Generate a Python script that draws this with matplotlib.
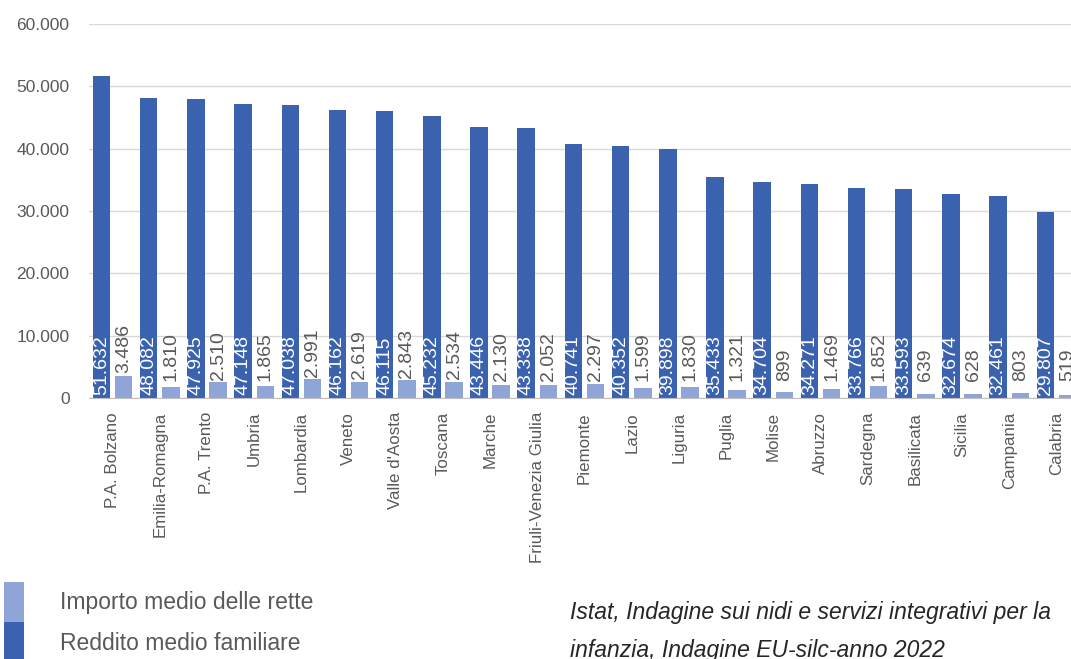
import matplotlib
matplotlib.use("Agg")
import matplotlib.pyplot as plt
from matplotlib.patches import Rectangle
import numpy as np

plt.rcParams['font.family'] = ['Liberation Sans', 'DejaVu Sans']

regions = ["P.A. Bolzano", "Emilia-Romagna", "P.A. Trento", "Umbria", "Lombardia",
           "Veneto", "Valle d'Aosta", "Toscana", "Marche", "Friuli-Venezia Giulia",
           "Piemonte", "Lazio", "Liguria", "Puglia", "Molise", "Abruzzo", "Sardegna",
           "Basilicata", "Sicilia", "Campania", "Calabria"]
reddito = [51632, 48082, 47925, 47148, 47038, 46162, 46115, 45232, 43446, 43338,
           40741, 40352, 39898, 35433, 34704, 34271, 33766, 33593, 32674, 32461, 29807]
rette = [3486, 1810, 2510, 1865, 2991, 2619, 2843, 2534, 2130, 2052,
         2297, 1599, 1830, 1321, 899, 1469, 1852, 639, 628, 803, 519]
yticks = [0, 10000, 20000, 30000, 40000, 50000, 60000]
legend_labels = ["Importo medio delle rette", "Reddito medio familiare"]
source_lines = ["Istat, Indagine sui nidi e servizi integrativi per la",
                "infanzia, Indagine EU-silc-anno 2022"]

DARK = "#3A62AE"
LIGHT = "#8FA5D8"
GRAY = "#595959"

def fmt(v):
    return f"{v:,}".replace(",", ".")

W, H = 1071, 659
fig = plt.figure(figsize=(W / 100, H / 100), dpi=100)
ax = fig.add_axes([89 / W, (H - 398) / H, (1080 - 89) / W, (398 - 24) / H])
ax.set_axisbelow(True)

x = np.arange(len(regions))
bw = 0.37
off = 0.235
ax.bar(x - off, reddito, bw, color=DARK, zorder=3)
ax.bar(x + off, rette, bw, color=LIGHT, zorder=3)

ax.set_xlim(-0.5, len(regions) - 0.5)
ax.set_ylim(0, 60000)
ax.set_yticks(yticks)
ax.set_yticklabels([fmt(v) for v in yticks], fontsize=12.5, color=GRAY)
ax.yaxis.grid(True, color="#D9D9D9", linewidth=1)
ax.tick_params(axis='y', length=0, pad=14)
ax.set_xticks(x)
ax.set_xticklabels(regions, rotation=90, fontsize=12.2, color=GRAY, va='top')
ax.tick_params(axis='x', length=0, pad=10)
for s in ["top", "right", "left"]:
    ax.spines[s].set_visible(False)
ax.spines["bottom"].set_color("#BFBFBF")
ax.spines["bottom"].set_zorder(4)

for xi, v in zip(x, reddito):
    ax.annotate(fmt(v), (xi - off, 0), xytext=(0, 2), textcoords="offset points",
                rotation=90, ha="center", va="bottom", color="white", fontsize=14, zorder=5)
for xi, v in zip(x, rette):
    ax.annotate(fmt(v), (xi + off, max(v, 2300)), xytext=(0, 2), textcoords="offset points",
                rotation=90, ha="center", va="bottom", color=GRAY, fontsize=14, zorder=5)

# legend drawn in figure pixel coordinates
for i, (col, lab) in enumerate(zip([LIGHT, DARK], legend_labels)):
    top = 582 + i * 40
    fig.patches.append(Rectangle((4 / W, (H - top - 40) / H), 20 / W, 40 / H,
                                 transform=fig.transFigure, facecolor=col,
                                 edgecolor='none', figure=fig))
    fig.text(60 / W, (H - top - 21) / H, lab, fontsize=16.5, color=GRAY,
             va="center", ha="left")

for i, line in enumerate(source_lines):
    fig.text(570 / W, (H - 612 - i * 38) / H, line,
             fontsize=16.5, style="italic", color="#262626", va="center", ha="left")

fig.savefig("out.png", dpi=100)
